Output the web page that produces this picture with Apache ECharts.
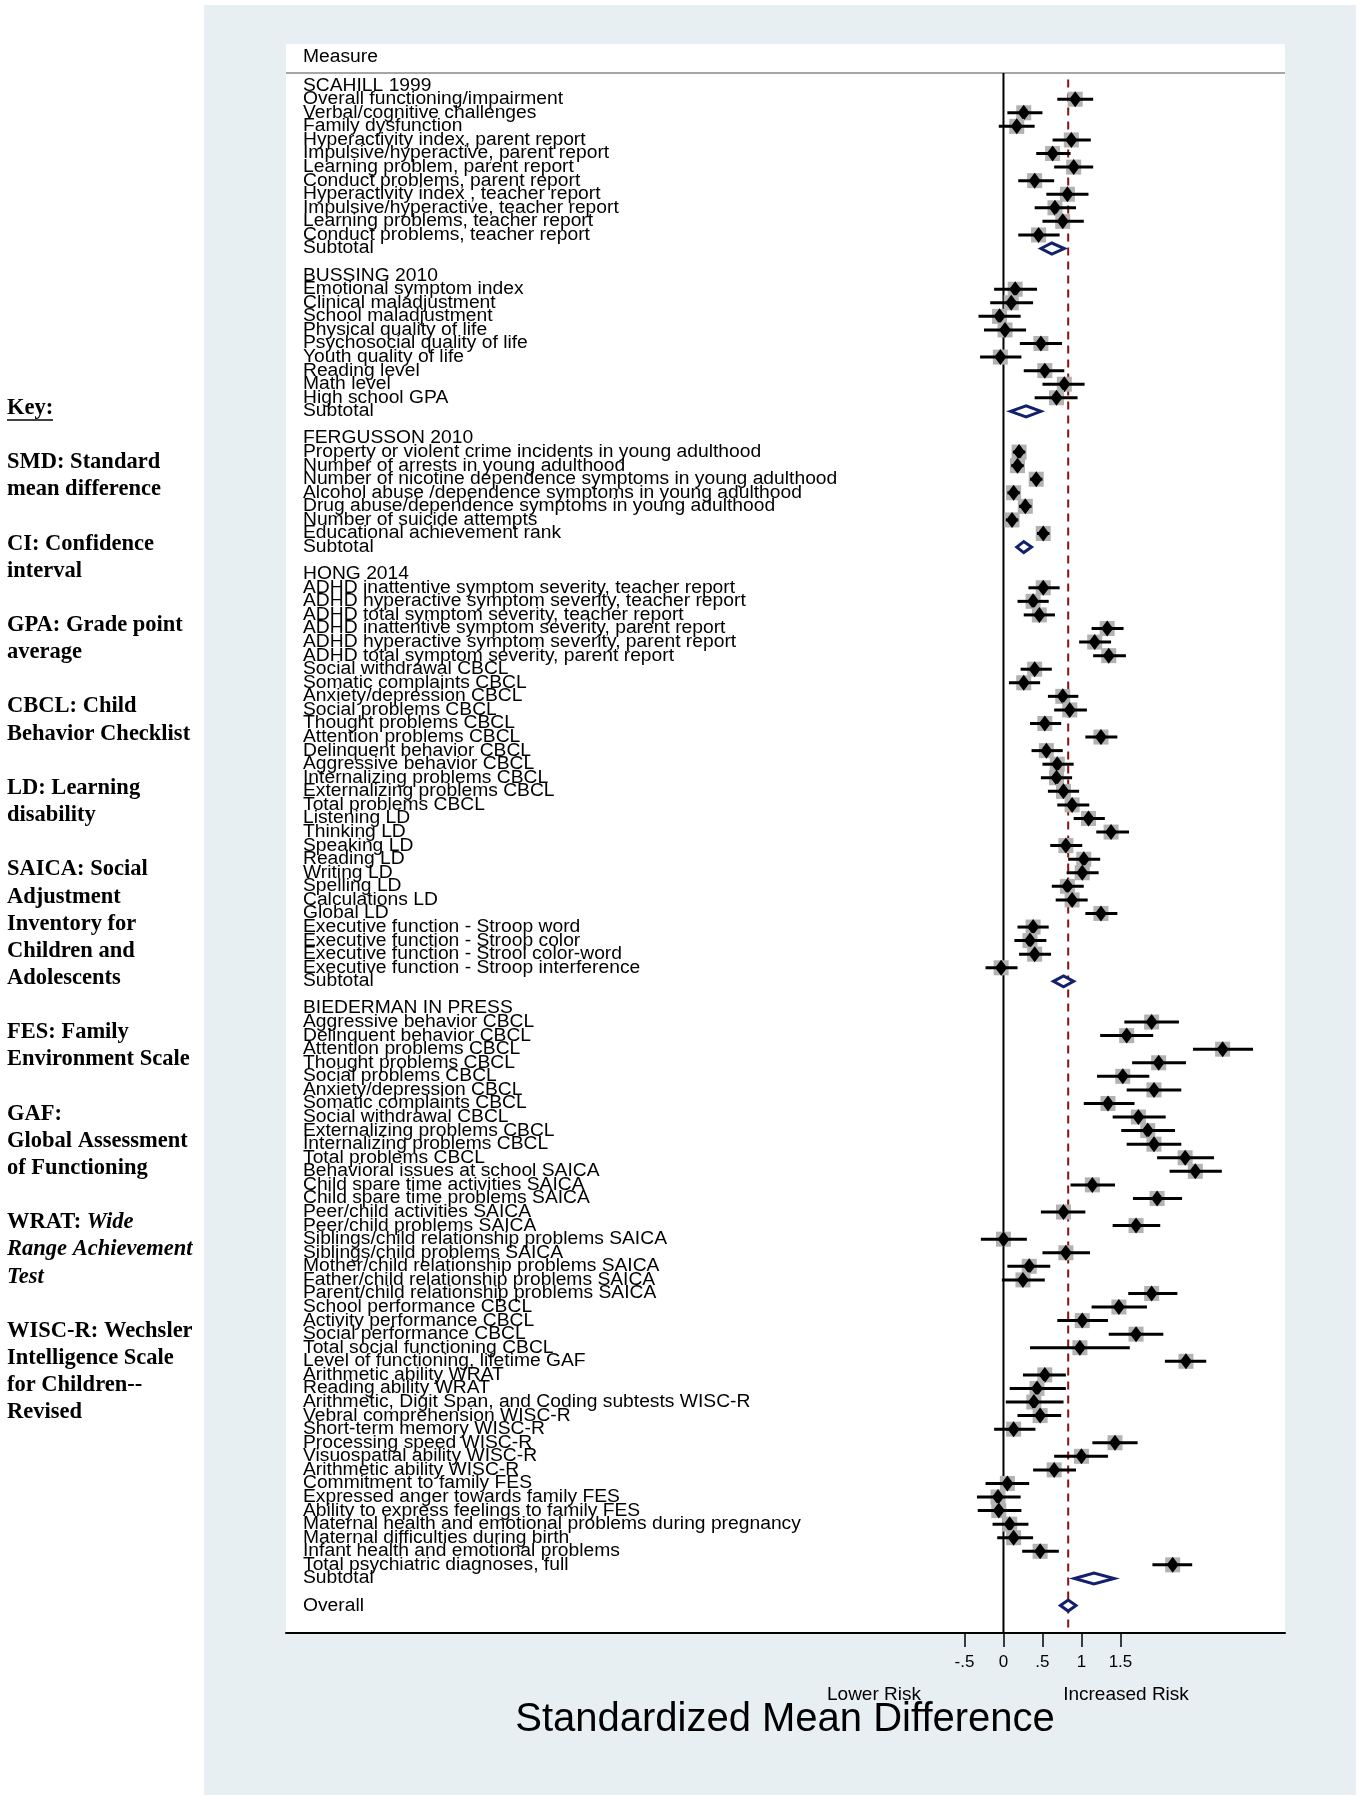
<!DOCTYPE html>
<html>
<head>
<meta charset="utf-8">
<script src="https://cdn.jsdelivr.net/npm/echarts@6/dist/echarts.min.js"></script>
<style>
html,body{margin:0;padding:0;background:#fff;}
#chart{width:1361px;height:1800px;}
</style>
</head>
<body>
<div id="chart"></div>
<script>
// ---------------- DATA ----------------
const scahillLabels = ["Overall functioning/impairment","Verbal/cognitive challenges","Family dysfunction","Hyperactivity index, parent report","Impulsive/hyperactive, parent report","Learning problem, parent report","Conduct problems, parent report","Hyperactivity index , teacher report","Impulsive/hyperactive, teacher report","Learning problems, teacher report","Conduct problems, teacher report"];
const scahillEst = [0.92,0.26,0.17,0.87,0.63,0.90,0.40,0.82,0.66,0.76,0.45];
const scahillLo  = [0.69,0.05,-0.06,0.63,0.42,0.65,0.19,0.55,0.40,0.50,0.19];
const scahillHi  = [1.15,0.50,0.40,1.12,0.86,1.15,0.65,1.09,0.93,1.03,0.72];
const scahillSubtotal = [0.62,0.48,0.78];

const bussingLabels = ["Emotional symptom index","Clinical maladjustment","School maladjustment","Physical quality of life","Psychosocial quality of life","Youth quality of life","Reading level","Math level","High school GPA"];
const bussingEst = [0.15,0.10,-0.05,0.02,0.48,-0.04,0.53,0.78,0.68];
const bussingLo  = [-0.12,-0.17,-0.32,-0.25,0.21,-0.30,0.26,0.50,0.40];
const bussingHi  = [0.43,0.38,0.22,0.29,0.75,0.23,0.78,1.04,0.95];
const bussingSubtotal = [0.29,0.09,0.48];

const fergussonLabels = ["Property or violent crime incidents in young adulthood","Number of arrests in young adulthood","Number of nicotine dependence symptoms in young adulthood","Alcohol abuse /dependence symptoms in young adulthood","Drug abuse/dependence symptoms in young adulthood","Number of suicide attempts","Educational achievement rank"];
const fergussonEst = [0.20,0.18,0.42,0.13,0.28,0.11,0.51];
const fergussonLo  = [0.12,0.10,0.34,0.05,0.20,0.03,0.43];
const fergussonHi  = [0.28,0.26,0.50,0.21,0.36,0.19,0.59];
const fergussonSubtotal = [0.26,0.17,0.36];

const hongLabels = ["ADHD inattentive symptom severity, teacher report","ADHD hyperactive symptom severity, teacher report","ADHD total symptom severity, teacher report","ADHD inattentive symptom severity, parent report","ADHD hyperactive symptom severity, parent report","ADHD total symptom severity, parent report","Social withdrawal CBCL","Somatic complaints CBCL","Anxiety/depression CBCL","Social problems CBCL","Thought problems CBCL","Attention problems CBCL","Delinquent behavior CBCL","Aggressive behavior CBCL","Internalizing problems CBCL","Externalizing problems CBCL","Total problems CBCL","Listening LD","Thinking LD","Speaking LD","Reading LD","Writing LD","Spelling LD","Calculations LD","Global LD","Executive function - Stroop word","Executive function - Stroop color","Executive function - Strool color-word","Executive function - Stroop interference"];
const hongEst = [0.51,0.38,0.46,1.33,1.17,1.35,0.40,0.26,0.76,0.85,0.53,1.25,0.55,0.69,0.68,0.77,0.88,1.09,1.38,0.80,1.03,1.01,0.82,0.88,1.25,0.38,0.34,0.40,-0.03];
const hongLo  = [0.32,0.18,0.26,1.13,0.97,1.15,0.22,0.07,0.57,0.65,0.34,1.05,0.36,0.50,0.48,0.57,0.69,0.90,1.19,0.60,0.83,0.81,0.62,0.67,1.05,0.18,0.14,0.20,-0.23];
const hongHi  = [0.72,0.58,0.66,1.54,1.38,1.57,0.62,0.47,0.96,1.07,0.74,1.46,0.76,0.90,0.88,0.97,1.10,1.30,1.61,1.01,1.24,1.22,1.03,1.08,1.46,0.58,0.55,0.61,0.18];
const hongSubtotal = [0.77,0.64,0.90];

const biedermanLabels = ["Aggressive behavior CBCL","Delinquent behavior CBCL","Attention problems CBCL","Thought problems CBCL","Social problems CBCL","Anxiety/depression CBCL","Somatic complaints CBCL","Social withdrawal CBCL","Externalizing problems CBCL","Internalizing problems CBCL","Total problems CBCL","Behavioral issues at school SAICA","Child spare time activities SAICA","Child spare time problems SAICA","Peer/child activities SAICA","Peer/child problems SAICA","Siblings/child relationship problems SAICA","Siblings/child problems SAICA","Mother/child relationship problems SAICA","Father/child relationship problems SAICA","Parent/child relationship problems SAICA","School performance CBCL","Activity performance CBCL","Social performance CBCL","Total social functioning CBCL","Level of functioning, lifetime GAF","Arithmetic ability WRAT","Reading ability WRAT","Arithmetic, Digit Span, and Coding subtests WISC-R","Vebral comprehension WISC-R","Short-term memory WISC-R","Processing speed WISC-R","Visuospatial ability WISC-R","Arithmetic ability WISC-R","Commitment to family FES","Expressed anger towards family FES","Ability to express feelings to family FES","Maternal health and emotional problems during pregnancy","Maternal difficulties during birth","Infant health and emotional problems","Total psychiatric diagnoses, full"];
const biedermanEst = [1.90,1.58,2.81,1.99,1.53,1.93,1.34,1.73,1.85,1.93,2.33,2.46,1.14,1.97,0.77,1.70,0.00,0.80,0.33,0.25,1.90,1.48,1.01,1.70,0.98,2.34,0.53,0.43,0.39,0.47,0.13,1.43,1.00,0.65,0.05,-0.07,-0.06,0.08,0.13,0.47,2.17];
const biedermanLo  = [1.55,1.24,2.43,1.65,1.20,1.58,1.03,1.40,1.51,1.58,1.97,2.13,0.86,1.66,0.48,1.40,-0.29,0.50,0.05,-0.02,1.60,1.13,0.69,1.35,0.34,2.07,0.25,0.08,0.03,0.18,-0.12,1.14,0.65,0.38,-0.23,-0.34,-0.33,-0.14,-0.08,0.24,1.91];
const biedermanHi  = [2.25,1.92,3.20,2.34,1.87,2.28,1.68,2.08,2.20,2.28,2.70,2.80,1.43,2.29,1.05,2.01,0.30,1.11,0.60,0.53,2.23,1.84,1.34,2.05,1.62,2.60,0.80,0.80,0.77,0.74,0.41,1.72,1.34,0.93,0.33,0.22,0.23,0.32,0.38,0.71,2.42];
const biedermanSubtotal = [1.16,0.91,1.42];

const overallEffect = [0.83,0.73,0.93];

const studyNames = ["SCAHILL 1999","BUSSING 2010","FERGUSSON 2010","HONG 2014","BIEDERMAN IN PRESS"];

const tickValues = [-0.5,0,0.5,1,1.5];
const tickLabels = ["-.5","0",".5","1","1.5"];

// ---------------- BUILD ROWS ----------------
const studies = [
  [scahillLabels, scahillEst, scahillLo, scahillHi, scahillSubtotal],
  [bussingLabels, bussingEst, bussingLo, bussingHi, bussingSubtotal],
  [fergussonLabels, fergussonEst, fergussonLo, fergussonHi, fergussonSubtotal],
  [hongLabels, hongEst, hongLo, hongHi, hongSubtotal],
  [biedermanLabels, biedermanEst, biedermanLo, biedermanHi, biedermanSubtotal]
];
const labelRows = [];
const itemData = [];
const diamondData = [];
let row = 0;
studies.forEach((s, si) => {
  labelRows.push([row, studyNames[si]]); row++;
  s[0].forEach((lab, i) => {
    labelRows.push([row, lab]);
    itemData.push([s[1][i], row, s[2][i], s[3][i]]);
    row++;
  });
  labelRows.push([row, "Subtotal"]);
  diamondData.push([s[4][0], row, s[4][1], s[4][2]]);
  row += 2;
});
labelRows.push([row, "Overall"]);
diamondData.push([overallEffect[0], row, overallEffect[1], overallEffect[2]]);

// axis ranges (layout)
const X_MIN = -9.2, X_MAX = 3.61;
const Y_MIN = -3.07, Y_MAX = 114.02;
const SEP_ROW = -0.94;

const LABEL_FONT = 'Liberation Sans, Arial, sans-serif';
const LABEL_SIZE = 18, LABEL_SCALE = 1.07;

// key text
const keyBlocks = [
  ["Key:"],
  ["SMD: Standard","mean difference"],
  ["CI: Confidence","interval"],
  ["GPA: Grade point","average"],
  ["CBCL: Child","Behavior Checklist"],
  ["LD: Learning","disability"],
  ["SAICA: Social","Adjustment","Inventory for","Children and","Adolescents"],
  ["FES: Family","Environment Scale"],
  ["GAF:","Global Assessment","of Functioning"],
  ["WRAT: {i|Wide}","{i|Range Achievement}","{i|Test}"],
  ["WISC-R: Wechsler","Intelligence Scale","for Children--","Revised"]
];
const graphics = [
  {type:'rect', shape:{x:0,y:0,width:204,height:1800}, style:{fill:'#fff'}, silent:true},
  {type:'rect', shape:{x:0,y:0,width:1361,height:5}, style:{fill:'#fff'}, silent:true},
  {type:'rect', shape:{x:1356,y:0,width:5,height:1800}, style:{fill:'#fff'}, silent:true},
  {type:'rect', shape:{x:0,y:1795,width:1361,height:5}, style:{fill:'#fff'}, silent:true}
];
let li = 0;
keyBlocks.forEach(block => {
  block.forEach(line => {
    graphics.push({type:'text', x:7, y:408 + li*27.15, silent:true,
      style:{text:line, fill:'#000', fontFamily:'Liberation Serif, Times New Roman, serif', fontWeight:'bold', fontSize:22.5,
        align:'left', verticalAlign:'middle',
        rich:{i:{fontFamily:'Liberation Serif, Times New Roman, serif', fontWeight:'bold', fontStyle:'italic', fontSize:22.5, fill:'#000'}}}});
    li++;
  });
  li++;
});
graphics.push({type:'line', shape:{x1:7,y1:420,x2:53,y2:420}, style:{stroke:'#000', lineWidth:1.5}, silent:true});
graphics.push({type:'text', x:303, y:57, scaleX:LABEL_SCALE, silent:true,
  style:{text:'Measure', fill:'#000', fontFamily:LABEL_FONT, fontSize:LABEL_SIZE, align:'left', verticalAlign:'middle'}});
graphics.push({type:'text', x:874, y:1695, silent:true,
  style:{text:'Lower Risk', fill:'#000', fontFamily:LABEL_FONT, fontSize:19, align:'center', verticalAlign:'middle'}});
graphics.push({type:'text', x:1126, y:1695, silent:true,
  style:{text:'Increased Risk', fill:'#000', fontFamily:LABEL_FONT, fontSize:19, align:'center', verticalAlign:'middle'}});
graphics.push({type:'text', x:785, y:1720, silent:true,
  style:{text:'Standardized Mean Difference', fill:'#000', fontFamily:LABEL_FONT, fontSize:40, align:'center', verticalAlign:'middle'}});

const chart = echarts.init(document.getElementById('chart'), null, {renderer:'canvas'});
chart.setOption({
  backgroundColor:'#e8eff2',
  animation:false,
  grid:{left:286, top:44, width:999, height:1589, show:true, backgroundColor:'#ffffff', borderWidth:0},
  xAxis:{
    type:'value', min:X_MIN, max:X_MAX,
    axisLine:{onZero:false, lineStyle:{color:'#000', width:2}},
    axisTick:{customValues:tickValues, length:14, lineStyle:{color:'#000', width:1.5}},
    axisLabel:{customValues:tickValues, margin:21, color:'#000', fontSize:17, fontFamily:LABEL_FONT,
      formatter: v => { const i = tickValues.findIndex(t => Math.abs(t - v) < 1e-9); return i >= 0 ? tickLabels[i] : ''; }},
    splitLine:{show:false}
  },
  yAxis:{type:'value', inverse:true, min:Y_MIN, max:Y_MAX, show:false},
  series:[
    {type:'line', data:[[X_MIN,SEP_ROW],[X_MAX,SEP_ROW]], symbol:'none', silent:true, z:1,
      lineStyle:{color:'#a6a6a6', width:2}},
    {type:'line', data:[[0,SEP_ROW],[0,Y_MAX]], symbol:'none', silent:true, z:1,
      lineStyle:{color:'#000', width:2}},
    {type:'line', data:[[overallEffect[0],-0.45],[overallEffect[0],Y_MAX]], symbol:'none', silent:true, z:1,
      lineStyle:{color:'#8b1010', width:2, type:[8,6]}},
    {type:'custom', coordinateSystem:'cartesian2d', clip:false, z:5, silent:true,
      data: labelRows.map(r => [0, r[0]]),
      renderItem:(params, api) => {
        const p = api.coord([0, api.value(1)]);
        return {type:'text', x: params.coordSys.x + 17, y: p[1], scaleX:LABEL_SCALE,
          style:{text: labelRows[params.dataIndex][1], fill:'#000', fontFamily:LABEL_FONT, fontSize:LABEL_SIZE,
            align:'left', verticalAlign:'middle'}};
      }},
    {type:'custom', coordinateSystem:'cartesian2d', clip:false, z:6, silent:true,
      data: itemData,
      renderItem:(params, api) => {
        const c = api.coord([api.value(0), api.value(1)]);
        const l = api.coord([api.value(2), api.value(1)]);
        const h = api.coord([api.value(3), api.value(1)]);
        return {type:'group', children:[
          {type:'rect', shape:{x:c[0]-7.5, y:c[1]-7.5, width:15, height:15}, style:{fill:'#b2b2b2'}},
          {type:'line', shape:{x1:l[0], y1:c[1], x2:h[0], y2:c[1]}, style:{stroke:'#000', lineWidth:3}},
          {type:'polygon', shape:{points:[[c[0]-6,c[1]],[c[0],c[1]-8],[c[0]+6,c[1]],[c[0],c[1]+8]]}, style:{fill:'#000'}}
        ]};
      }},
    {type:'custom', coordinateSystem:'cartesian2d', clip:false, z:6, silent:true,
      data: diamondData,
      renderItem:(params, api) => {
        const c = api.coord([api.value(0), api.value(1)]);
        const l = api.coord([api.value(2), api.value(1)]);
        const h = api.coord([api.value(3), api.value(1)]);
        return {type:'polygon', shape:{points:[[l[0],c[1]],[c[0],c[1]-5.5],[h[0],c[1]],[c[0],c[1]+5.5]]},
          style:{fill:'#fff', stroke:'#13206b', lineWidth:3}};
      }}
  ],
  graphic: graphics
});
</script>
</body>
</html>
